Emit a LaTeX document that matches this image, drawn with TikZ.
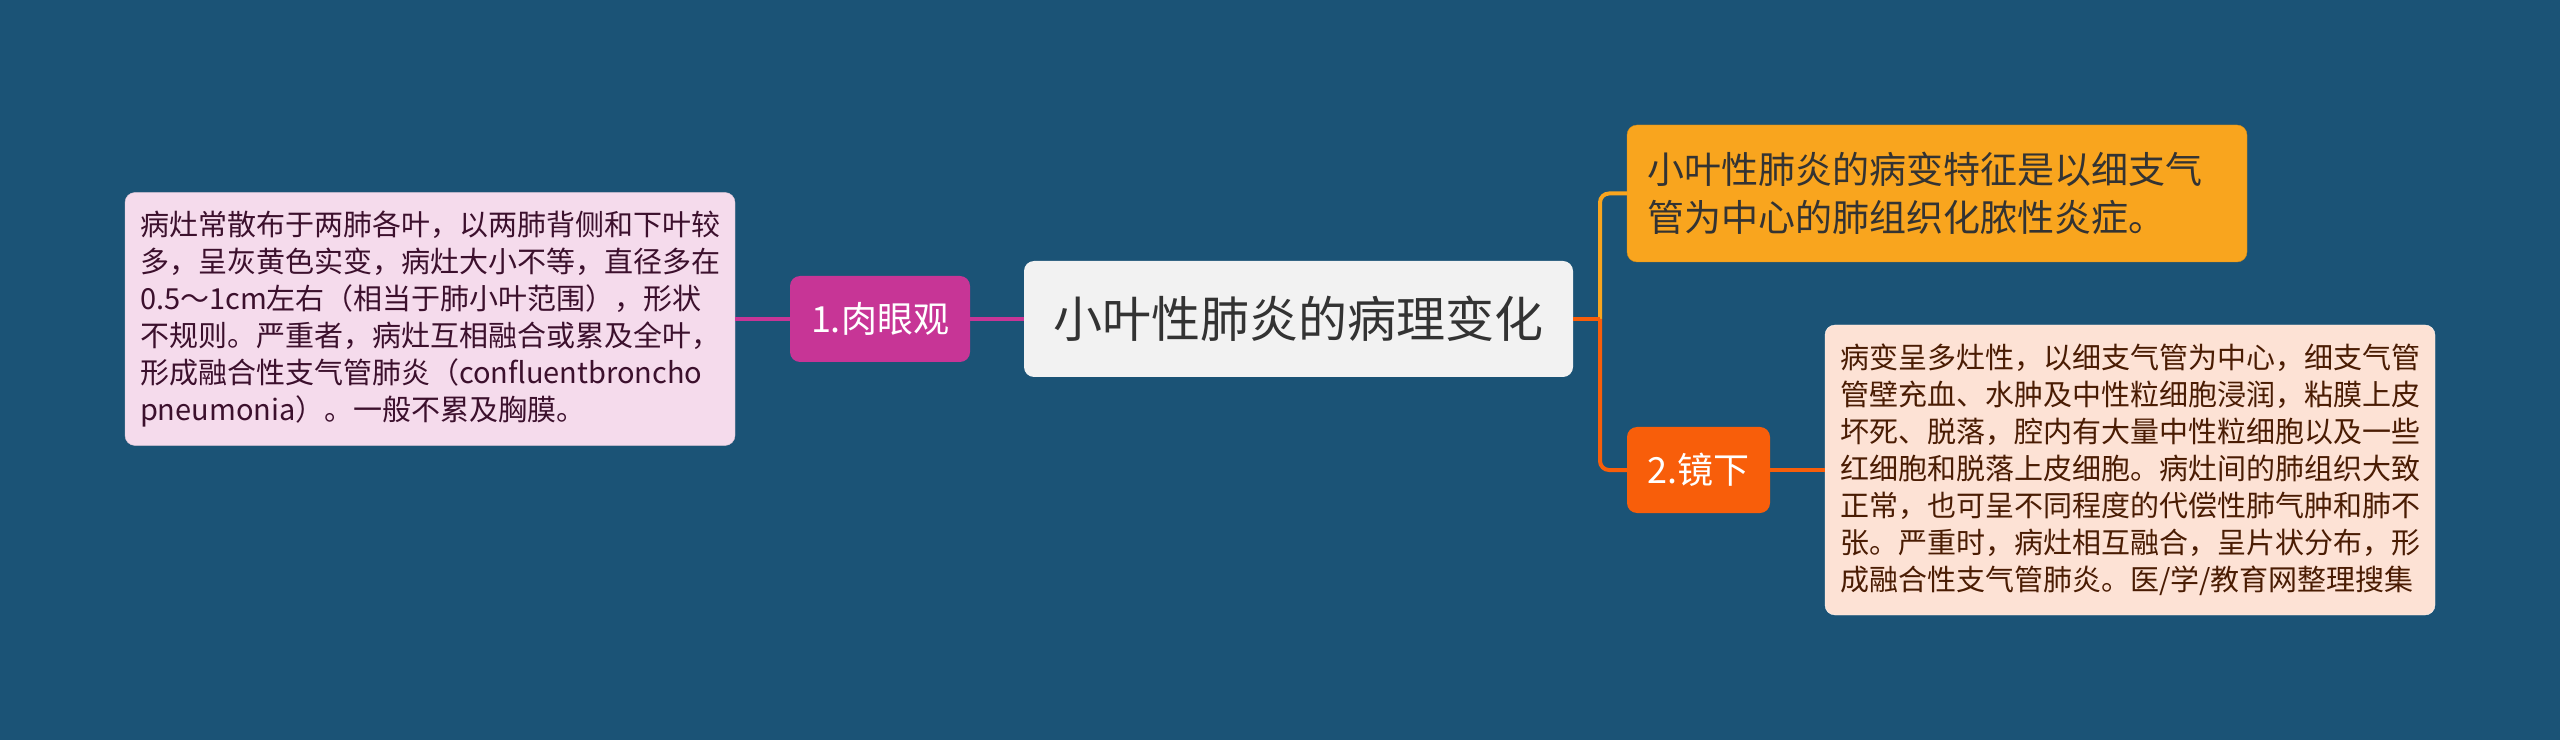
\documentclass[tikz,border=0pt]{standalone}
\usepackage{fontspec}
\newfontfamily\cjk{Noto Sans CJK SC}
\definecolor{bgblue}{HTML}{1B5376}
\definecolor{col1}{HTML}{C73596}
\definecolor{col2}{HTML}{F9A51E}
\definecolor{col3}{HTML}{F85E0A}
\colorlet{col1light}{col1!18!white}
\definecolor{col3light}{HTML}{FDE2D5}
\definecolor{rootgrey}{HTML}{F2F2F2}

\begin{document}
\begin{tikzpicture}[x=1pt, y=1pt, every node/.style={rounded corners=10pt, inner sep=0pt},
    maintopic/.style={fill=rootgrey, text=black!80, minimum width=549, minimum height=116, font=\fontsize{49}{58}\selectfont},
    subtopic/.style={text=white, minimum height=86, font=\fontsize{36}{44}\selectfont},
    detail/.style={align=left, inner xsep=15, text width=580, font=\fontsize{29}{37}\selectfont},
    conn/.style={line width=4pt}]
    \cjk
    \useasboundingbox (0,0) rectangle (2560,740);
    \fill[bgblue] (0,0) rectangle (2560,740);

    \node[maintopic] (root) at (1298.5,421) {小叶性肺炎的病理变化};  % root node
    % left branch
    \node[subtopic, fill=col1, minimum width=180] (br1) at (880,421) {1.肉眼观};
    \node[detail, fill=col1light, draw=col1light!90!black, text=col1!30!black, minimum height=253] (det1) at (430,421)
      {病灶常散布于两肺各叶，以两肺背侧和下叶较\\
       多，呈灰黄色实变，病灶大小不等，直径多在\\
       0.5～1cm左右（相当于肺小叶范围），形状\\
       不规则。严重者，病灶互相融合或累及全叶，\\
       形成融合性支气管肺炎（confluentbroncho\\
       pneumonia）。一般不累及胸膜。};
    % right branches
    \node[fill=col2, draw=col2!85!black, text=black!80, align=left, inner xsep=20, text width=580, minimum height=137,
      font=\fontsize{37}{48}\selectfont] (sum) at (1937,546.5)
      {小叶性肺炎的病变特征是以细支气\\
       管为中心的肺组织化脓性炎症。};
    \node[subtopic, fill=col3, minimum width=143] (br2) at (1698.5,270) {2.镜下};
    \node[detail, fill=col3light, draw=white!70!col3light, text=col3!30!black, minimum height=290] (det2) at (2130,270)
      {病变呈多灶性，以细支气管为中心，细支气管\\
       管壁充血、水肿及中性粒细胞浸润，粘膜上皮\\
       坏死、脱落，腔内有大量中性粒细胞以及一些\\
       红细胞和脱落上皮细胞。病灶间的肺组织大致\\
       正常，也可呈不同程度的代偿性肺气肿和肺不\\
       张。严重时，病灶相互融合，呈片状分布，形\\
       成融合性支气管肺炎。医/学/教育网整理搜集};

    \coordinate (hub) at (1600,421);
    \draw[conn, col1] (det1) -- (br1) (br1) -- (root);
    \draw[conn, col2, rounded corners=9pt] (hub) |- (sum.west);
    \draw[conn, col3, rounded corners=9pt] (hub) |- (br2.west);
    \draw[conn, col3] (root.east) -- (hub);
    \draw[conn, col3] (br2) -- (det2);
  \end{tikzpicture}
\end{document}
